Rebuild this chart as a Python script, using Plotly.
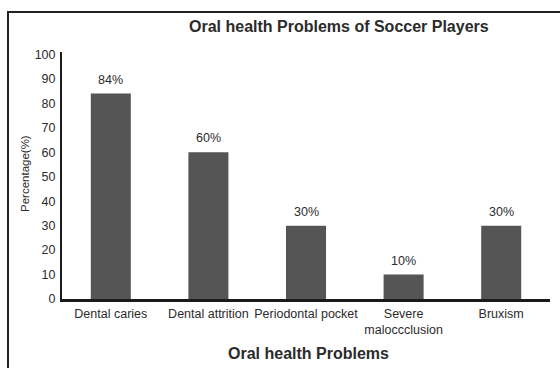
import plotly.graph_objects as go

categories = ["Dental caries", "Dental attrition", "Periodontal pocket",
              "Severe<br>maloccclusion", "Bruxism"]
values = [84, 60, 30, 10, 30]
labels = ["84%", "60%", "30%", "10%", "30%"]
y_ticks = [0, 10, 20, 30, 40, 50, 60, 70, 80, 90, 100]

FONT = "Liberation Sans, Arial, sans-serif"
TXT = "#2b2b2b"

T, B = 52, 299
H = B - T

fig = go.Figure()
fig.add_trace(go.Bar(x=categories, y=values, marker=dict(color="#555555", line=dict(width=0)),
                     width=0.41, showlegend=False, hoverinfo="skip"))

for c, v, t in zip(categories, values, labels):
    fig.add_annotation(x=c, y=v, text=t, showarrow=False, yanchor="bottom", yshift=5,
                       font=dict(family=FONT, size=12.5, color=TXT))

fig.update_layout(
    width=560, height=368,
    margin=dict(l=62, r=10, t=T, b=368 - B),
    paper_bgcolor="white", plot_bgcolor="white",
    font=dict(family=FONT, size=12.5, color=TXT),
    xaxis=dict(showline=True, linecolor="#1a1a1a", linewidth=2.5, showgrid=False,
               ticks="", tickfont=dict(size=12.5, color=TXT), ticklabelstandoff=1,
               range=[-0.5, 4.5]),
    yaxis=dict(showline=True, linecolor="#1a1a1a", linewidth=2, showgrid=False,
               range=[0, 101], tickvals=y_ticks, ticks="", zeroline=False,
               tickfont=dict(size=12.5, color=TXT), ticklabelstandoff=2),
    shapes=[dict(type="rect", xref="paper", yref="paper",
                 x0=-54 / 488, x1=1.2, y0=-0.5, y1=1 + (T - 12) / H,
                 line=dict(color="#222222", width=2), fillcolor="rgba(0,0,0,0)", layer="below")],
)

fig.add_annotation(xref="paper", yref="paper", x=(339 - 62) / 488, y=1 + (T - 26) / H,
                   text="<b>Oral health Problems of Soccer Players</b>", showarrow=False,
                   xanchor="center", yanchor="middle", font=dict(family=FONT, size=16, color=TXT))
fig.add_annotation(xref="paper", yref="paper", x=(308 - 62) / 488, y=-(353 - B) / H,
                   text="<b>Oral health Problems</b>", showarrow=False,
                   xanchor="center", yanchor="middle", font=dict(family=FONT, size=16, color=TXT))
fig.add_annotation(xref="paper", yref="paper", x=-(62 - 25) / 488, y=(B - 174) / H,
                   text="Percentage(%)", showarrow=False, textangle=-90,
                   xanchor="center", yanchor="middle", font=dict(family=FONT, size=11.5, color=TXT))

fig.write_html("out.html")
